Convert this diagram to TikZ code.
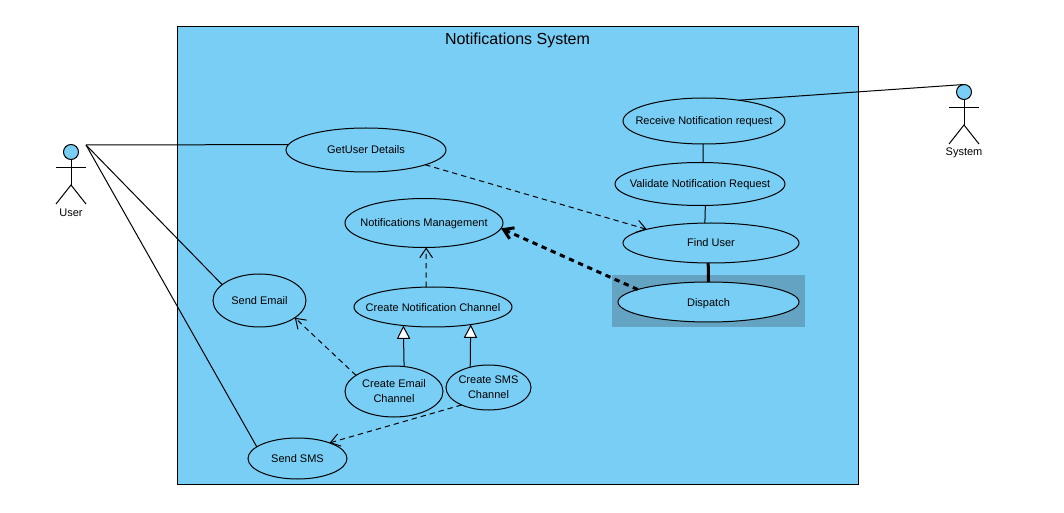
\documentclass[tikz,border=0pt]{standalone}
\usepackage{fontspec}
\setmainfont{Liberation Sans}
\usetikzlibrary{arrows.meta,shapes.geometric}
\definecolor{sysblue}{HTML}{79CEF5}
\definecolor{markblue}{HTML}{65A3C3}
\tikzset{
  usecase/.style 2 args={draw,ellipse,fill=sysblue,inner sep=-10pt,outer sep=0pt,
    minimum width=#1*0.75pt,minimum height=#2*0.75pt,align=center,
    font=\fontsize{8.25}{11.25}\selectfont},
  oneline/.style={text height=6pt,text depth=0pt},
  actorlabel/.style={inner sep=0pt,font=\fontsize{8.25}{10}\selectfont},
  actorhead/.style={draw,circle,fill=sysblue,inner sep=0pt,outer sep=0pt,minimum size=11.25pt},
  depend/.style={dashed,dash pattern=on 4pt off 3pt,-{Straight Barb[length=7pt,width=9.5pt]}},
  realize/.style={-{Triangle[open,fill=white,length=10pt,width=10pt]}},
  heavy/.style={line width=2.25pt},
}
\begin{document}
\begin{tikzpicture}[x=0.75pt,y=-0.75pt,line width=0.75pt]
    \useasboundingbox (0,0) rectangle (1064,513);
    % system box
    \draw[fill=sysblue] (177,27) rectangle (858,484);
    \node[inner sep=0pt,font=\fontsize{12}{14}\selectfont] (title) at (517.5,40) {Notifications System};
    \fill[markblue] (612,275) rectangle (805,327);
    % use cases
    \node[usecase={160}{44},oneline] (getuser) at (366,150) {GetUser Details};
    \node[usecase={162}{46},oneline] (receive) at (704,121) {Receive Notification request};
    \node[usecase={170}{43},oneline] (validate) at (700,184) {Validate Notification Request};
    \node[usecase={176}{40},oneline] (finduser) at (711,243) {Find User};
    \node[usecase={181}{40},oneline] (dispatch) at (708.5,302) {Dispatch};
    \node[usecase={158}{49},oneline] (manage) at (424,223) {Notifications Management};
    \node[usecase={158}{40},oneline] (channel) at (433,307) {Create Notification Channel};
    \node[usecase={98}{51}] (email) at (394,391.5) {Create Email\\Channel};
    \node[usecase={85}{45}] (sms) at (488.5,387.5) {Create SMS\\Channel};
    \node[usecase={93}{53},oneline] (sendemail) at (259.5,300.5) {Send Email};
    \node[usecase={99}{41},oneline] (sendsms) at (297.5,458.5) {Send SMS};
    % user
    \node[actorhead] (userhead) at (71,152) {};
    \coordinate (userfoot) at (71,185);
    \coordinate (userport) at (86,145);
    \draw (userhead) -- (userfoot);
    \draw (56,168) -- (86,168);
    \draw (56,204) -- (userfoot) -- (86,204);
    \node[actorlabel] (user) at (71,213) {User};
    % system
    \node[actorhead] (syshead) at (964,92) {};
    \coordinate (sysfoot) at (964,125);
    \draw (syshead) -- (sysfoot);
    \draw (949,108) -- (979,108);
    \draw (949,144) -- (sysfoot) -- (979,144);
    \node[actorlabel] (system) at (964,153) {System};
    % associations
    \draw (userport) -- (getuser.176);
    \draw (userport) -- (sendemail.157);
    \draw (userport) -- (sendsms.164.5);
    \draw (receive.31.6) -- (syshead.north);
    \draw (receive.268) -- (validate.82);
    \draw (validate.284) -- (finduser.107);
    \draw[heavy] (finduser.262) -- (dispatch.north);
    % dependencies
    \draw[depend] (getuser.-14.3) -- (finduser.168.7);
    \draw[depend] (channel.109.3) -- (manage.275);
    \draw[depend] (email.157.7) -- (sendemail.-26.9);
    \draw[depend] (sms.213.7) -- (sendsms.26.2);
    \draw[heavy,dash pattern=on 4pt off 3.5pt,-{Straight Barb[length=7pt,width=9pt]}] (dispatch.170) -- (manage.-4.4);
    % generalisations
    \draw[realize] (email.68) -- (channel.212.7);
    \draw[realize] (sms.132) -- (channel.335.5);
\end{tikzpicture}
\end{document}
